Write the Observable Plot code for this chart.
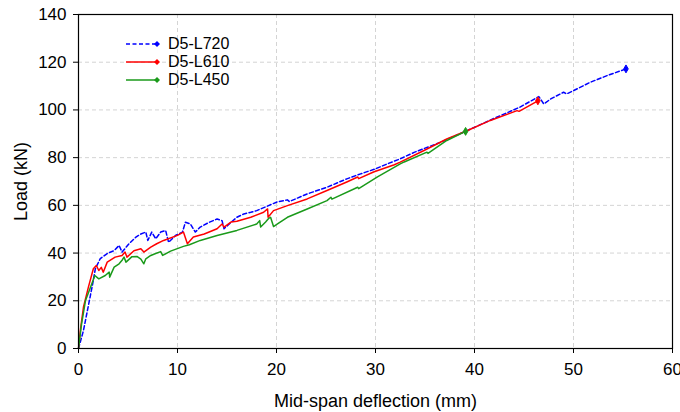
<!DOCTYPE html>
<html>
<head>
<meta charset="utf-8">
<script src="https://cdn.jsdelivr.net/npm/d3@7"></script>
<script src="https://cdn.jsdelivr.net/npm/@observablehq/plot@0.6"></script>
<style>
  body { margin: 0; background: #fff; font-family: "Liberation Sans", Arial, sans-serif; }
  #wrap { position: relative; width: 680px; height: 412px; }
  #legend { position: absolute; left: 124px; top: 35px; font-size: 16px; color: #000; }
  #legend .row { display: flex; align-items: center; height: 18px; }
  #legend svg { margin-right: 6px; }
  svg text { font-family: "Liberation Sans", Arial, sans-serif; }
  svg [aria-label="x-axis label"] text, svg [aria-label="y-axis label"] text { font-size: 18px; }
</style>
</head>
<body>
<div id="wrap"><div id="legend"></div></div>
<script>
const seriesNames = ["D5-L720", "D5-L610", "D5-L450"];
const seriesColors = ["#0000ff", "#ff0000", "#1a9a1a"];
const seriesDash = ["4,2.5", null, null];

const xTicks = [0, 10, 20, 30, 40, 50, 60];
const yTicks = [0, 20, 40, 60, 80, 100, 120, 140];

const L720x = [0,0.5,1.0,1.4,1.7,2.2,2.9,3.6,4.1,4.4,5.1,5.8,6.3,6.8,7.0,7.4,7.8,8.3,8.8,9.1,9.8,10.5,10.8,11.3,11.8,12.3,13.2,14.0,14.5,14.7,15.4,16.0,16.7,17.4,18.0,19.2,20.1,21.1,21.3,23.1,25.1,27.1,28.5,30.0,31.2,32.5,33.9,36.6,39.3,41.9,44.6,46.5,47.0,47.7,49.0,49.3,50.0,51.7,53.4,55.3];
const L720y = [0,7.5,18,26.4,33.4,37.7,39.8,41,43.2,40.4,43.9,46.7,48,48.8,45.3,48.8,46,48.8,49.5,44.5,47.4,48.8,52.9,52.2,48.8,50.9,52.9,54.3,53.6,50.2,52.9,55,56.4,57.1,57.8,59.9,61.5,62.3,61.6,64.8,67.6,71.1,73.2,75.3,77.4,79.5,82.2,86.5,91.4,96.3,101.2,105.6,102.5,104.6,107.4,106.7,108.1,111.6,114.4,117.2];

const L610x = [0,0.2,0.5,1.0,1.5,1.8,2.05,2.3,2.5,2.9,3.7,4.4,4.7,4.9,5.6,6.3,6.6,7.3,7.9,8.6,10.0,10.6,11.0,11.6,12.7,14.0,14.5,14.7,15.4,16.0,17.4,18.7,19.1,19.15,19.7,21.1,23.1,25.1,27.1,28.2,28.3,29.8,31.9,32.5,34.9,37.2,39.3,41.6,44.3,44.5,46.4];
const L610y = [0,8,17.3,25.7,33.4,34.8,32.7,34,32,36.2,38.3,39,40.4,38.3,41,41.8,40.4,42.5,43.9,45.3,47.4,48.8,43.9,46.7,48,50.2,52.2,50.9,53,53.3,55,57.1,58.5,55,57.8,59.9,62.7,66.2,69.8,71.9,71.2,74,77.0,78.1,83,87.8,91.4,95.6,99.7,99.4,103.8];

const L450x = [0,0.3,0.7,1.4,1.65,2.05,2.7,3.1,3.15,3.6,4.1,4.4,4.6,4.8,5.4,5.9,6.3,6.6,6.8,7.3,7.8,8.3,8.5,9.3,10.6,11.2,12.3,14.0,16.0,18.0,18.3,18.4,18.9,19.2,19.4,19.7,20.1,21.1,23.1,25.1,25.5,25.6,28.2,28.3,30.2,32.5,32.9,35.2,35.3,37.2,39.1];
const L450y = [0,10,20,27.8,30.6,29.2,30.6,32,29.9,34.1,35.5,37,38.3,36.2,38.5,38.6,37.5,35.5,37.6,39,39.8,40.6,39,40.8,42.8,43.5,45.3,47.4,49.5,52.2,53.6,50.9,53,54.5,55,51.1,52.2,55,58.5,62,63.4,62.6,67.6,67.0,71.9,77.4,78.2,82.3,81.8,87.2,91.0];

const xs = [L720x, L610x, L450x];
const ys = [L720y, L610y, L450y];
const data = seriesNames.map((name, i) => xs[i].map((x, j) => ({series: name, x, y: ys[i][j]})));
const ends = data.map(d => d[d.length - 1]);

const marks = [
  Plot.gridX({ticks: xTicks.slice(1, -1), stroke: "#d4d4d4", strokeOpacity: 1, strokeDasharray: "4,3"}),
  Plot.gridY({ticks: yTicks.slice(1, -1), stroke: "#d4d4d4", strokeOpacity: 1, strokeDasharray: "4,3"}),
];
data.forEach((d, i) => {
  marks.push(Plot.line(d, {x: "x", y: "y", stroke: seriesColors[i], strokeWidth: 1.5, strokeDasharray: seriesDash[i] || undefined}));
});
ends.forEach((e, i) => {
  marks.push(Plot.dot([e], {x: "x", y: "y", symbol: "diamond", r: 2.4, fill: seriesColors[i], stroke: seriesColors[i], strokeWidth: 1}));
});
marks.push(
  Plot.frame({stroke: "#000", strokeWidth: 1.2}),
  Plot.axisX({ticks: xTicks, tickSize: 5, tickPadding: 9, fontSize: 17, label: "Mid-span deflection (mm)", labelAnchor: "center", labelArrow: "none", labelOffset: 58}),
  Plot.axisY({ticks: yTicks, tickSize: 5, tickPadding: 7, fontSize: 17, label: "Load (kN)", labelAnchor: "center", labelArrow: "none", labelOffset: 64})
);

const chart = Plot.plot({
  width: 680,
  height: 412,
  marginLeft: 78,
  marginRight: 8,
  marginTop: 14,
  marginBottom: 64,
  style: {fontFamily: "'Liberation Sans', Arial, sans-serif", fontSize: "17px", color: "#000", background: "#fff", overflow: "visible"},
  x: {domain: [0, 60]},
  y: {domain: [0, 140]},
  marks
});
document.getElementById("wrap").prepend(chart);

const legend = document.getElementById("legend");
seriesNames.forEach((name, i) => {
  const row = document.createElement("div");
  row.className = "row";
  row.innerHTML = `<svg width="38" height="10"><line x1="2" y1="5" x2="33" y2="5" stroke="${seriesColors[i]}" stroke-width="1.5" ${seriesDash[i] ? `stroke-dasharray="${seriesDash[i]}"` : ""}/><path d="M33,2L36,5L33,8L30,5Z" fill="${seriesColors[i]}"/></svg><span>${name}</span>`;
  legend.appendChild(row);
});
</script>
</body>
</html>
